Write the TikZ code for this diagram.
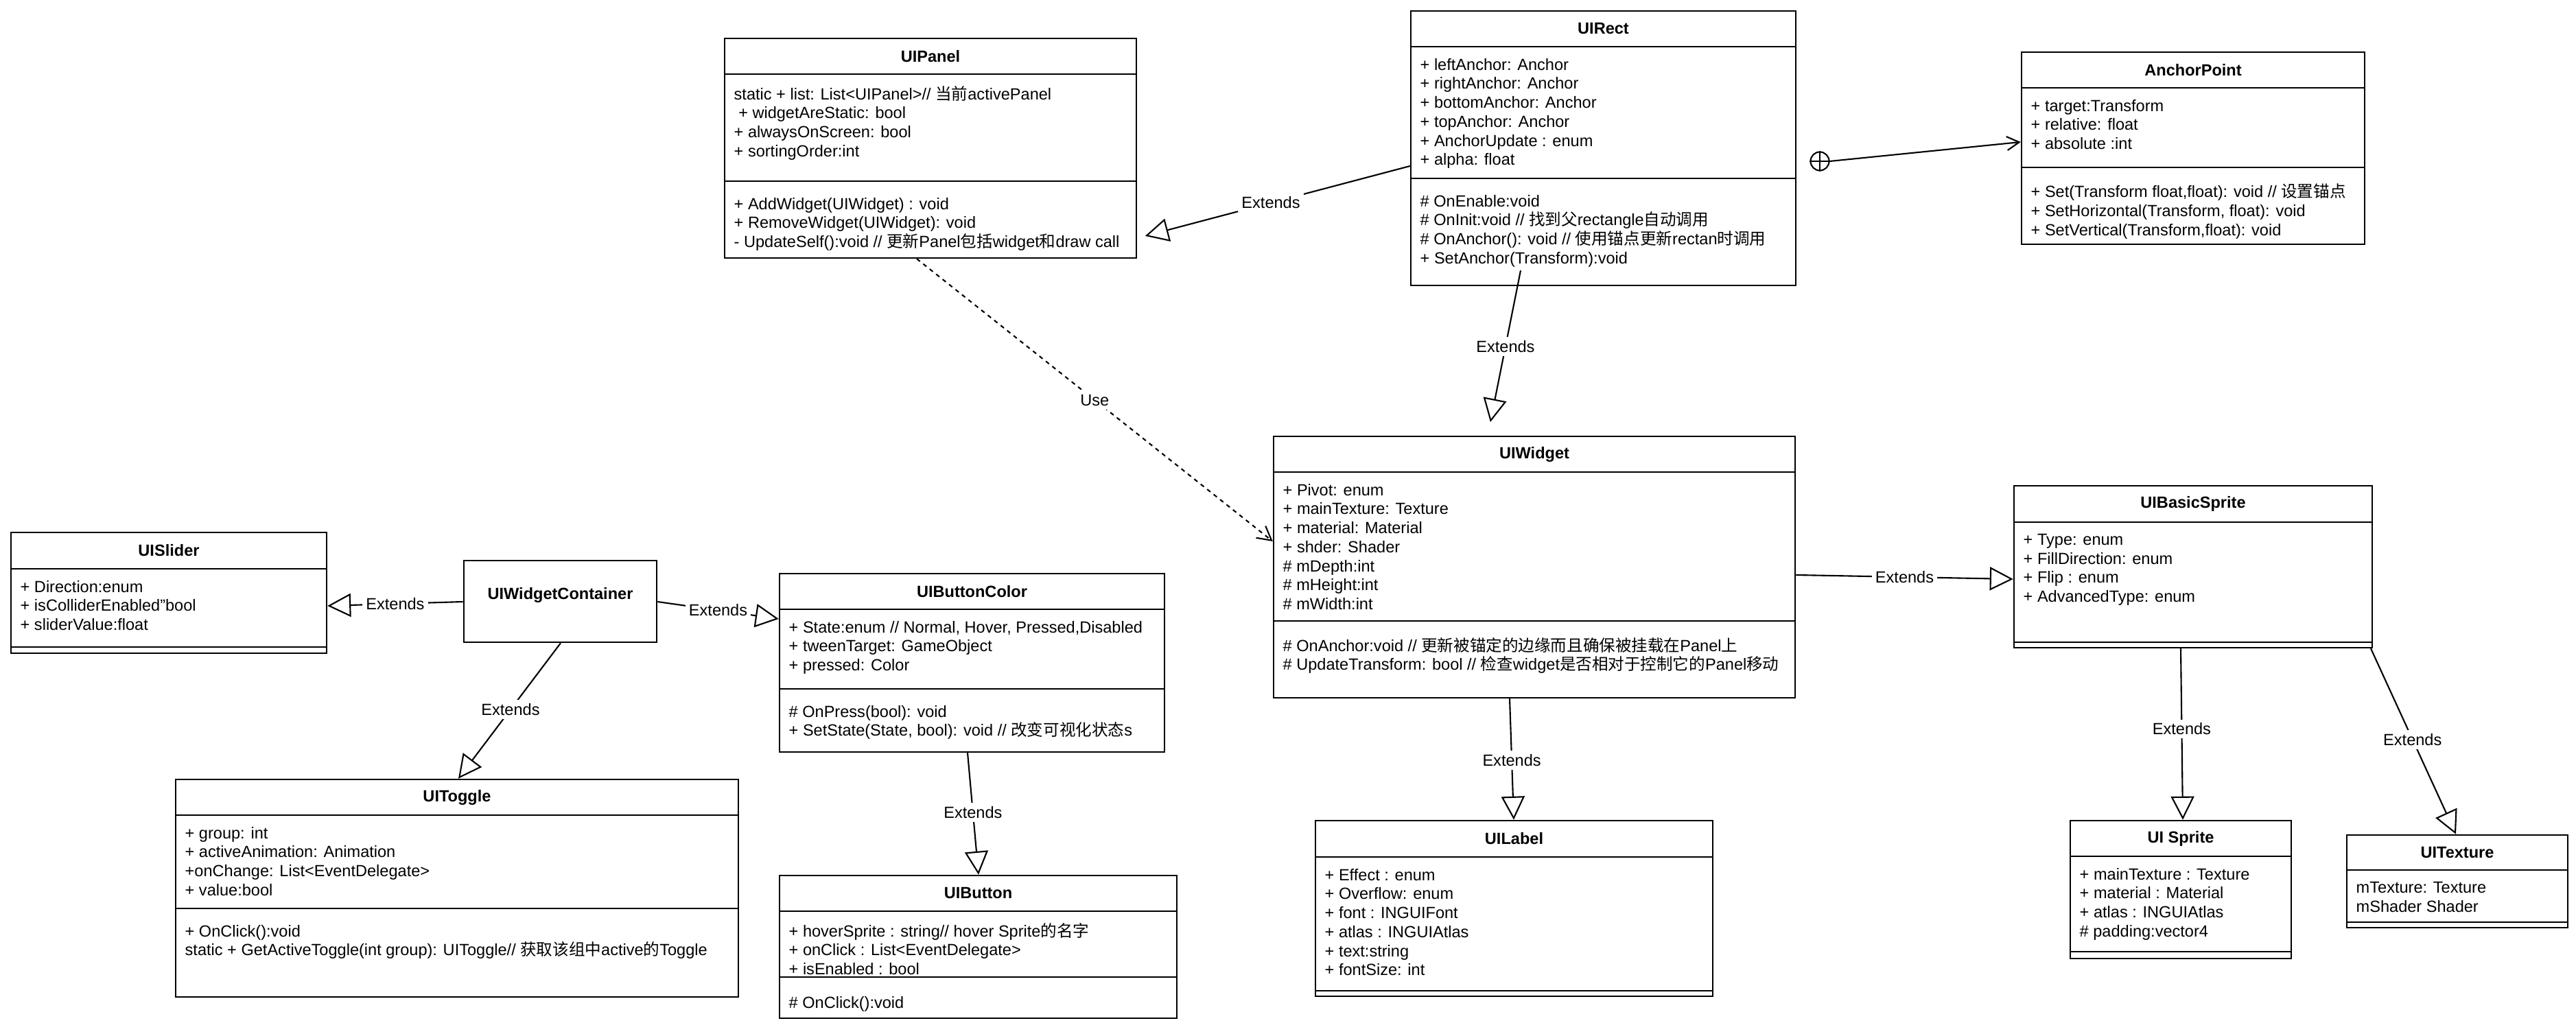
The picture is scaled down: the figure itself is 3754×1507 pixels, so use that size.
\documentclass[tikz,border=0pt]{standalone}
\usepackage{fontspec}
\setmainfont{Liberation Sans}
\newfontfamily\zhfont{Noto Sans CJK SC}
\usepackage{tikz}
\usetikzlibrary{arrows.meta,positioning,fit}

\newcommand{\zh}[1]{{\zhfont #1}}
\newcommand{\memberfont}{\fontsize{6.7}{7.88}\selectfont}
% class box: name, left, top, right, bottom, header line, divider line, title
\newcommand{\umlclass}[8]{%
  \node[classbox, fit={(#2,#3) (#4,#5)}] (#1) {};
  \draw[classline] (#2,#6) -- (#4,#6) (#2,#7) -- (#4,#7);
  \node[classtitle] at ({(#2+#4)/2},{(#3+#6)/2}) {#8};
  \coordinate (#1-attr) at ({#2+13},{#6+16.4});
  \coordinate (#1-meth) at ({#2+13},{#7+23.4});
}

\begin{document}
\begin{tikzpicture}[x=0.01cm,y=-0.01cm,
    classbox/.style={draw,line width=0.7pt,inner sep=0pt},
    classline/.style={line width=0.7pt},
    classtitle/.style={font=\memberfont\bfseries,inner sep=0pt},
    members/.style={anchor=north west,align=left,inner sep=0pt,font=\memberfont,
      execute at begin node={\rule{0pt}{6pt}}},
    extends/.style={-{Triangle[open,length=0.34cm,width=0.34cm]},line width=0.6pt},
    use/.style={-{Straight Barb[length=0.2cm,width=0.22cm]},line width=0.6pt,
      dash pattern=on 0.06cm off 0.06cm},
    assoc/.style={-{Straight Barb[length=0.18cm,width=0.2cm]},line width=0.6pt},
    lbl/.style={fill=white,inner sep=1.5pt,font=\memberfont}]
    \useasboundingbox (0,0) rectangle (3754,1507);
    \fill[white] (0,0) rectangle (3754,1507);

    % Classes
    \umlclass{panel}{1056}{56}{1656}{376}{108}{264}{UIPanel}
    \node[members] at (panel-attr) {static + list: List<UIPanel>// \zh{当前}activePanel\\
      \ + widgetAreStatic: bool\\ + alwaysOnScreen: bool\\ + sortingOrder:int};
    \node[members] at (panel-meth) {+ AddWidget(UIWidget) : void\\ + RemoveWidget(UIWidget): void\\
      - UpdateSelf():void // \zh{更新}Panel\zh{包括}widget\zh{和}draw call};

    \umlclass{rect}{2056}{16}{2617}{416}{68}{260}{UIRect}
    \node[members] at (rect-attr) {+ leftAnchor: Anchor\\ + rightAnchor: Anchor\\ + bottomAnchor: Anchor\\
      + topAnchor: Anchor\\ + AnchorUpdate : enum\\ + alpha: float};
    \node[members] at (rect-meth) {\# OnEnable:void\\ \# OnInit:void // \zh{找到父}rectangle\zh{自动调用}\\
      \# OnAnchor(): void // \zh{使用锚点更新}rectan\zh{时调用}\\ + SetAnchor(Transform):void};

    \umlclass{anchorpt}{2946}{76}{3446}{356}{128}{244}{AnchorPoint}
    \node[members] at (anchorpt-attr) {+ target:Transform\\ + relative: float\\ + absolute :int};
    \node[members] at (anchorpt-meth) {+ Set(Transform float,float): void // \zh{设置锚点}\\
      + SetHorizontal(Transform, float): void\\ + SetVertical(Transform,float): void};

    \umlclass{widget}{1856}{636}{2616}{1017}{688}{905}{UIWidget}
    \node[members] at (widget-attr) {+ Pivot: enum\\ + mainTexture: Texture\\ + material: Material\\
      + shder: Shader\\ \# mDepth:int\\ \# mHeight:int\\ \# mWidth:int};
    \node[members] at (widget-meth) {\# OnAnchor:void // \zh{更新被锚定的边缘而且确保被挂载在}Panel\zh{上}\\
      \# UpdateTransform: bool // \zh{检查}widget\zh{是否相对于控制它的}Panel\zh{移动}};

    \umlclass{slider}{16}{776}{476}{952}{829}{943}{UISlider}
    \node[members] at (slider-attr) {+ Direction:enum\\ + isColliderEnabled"bool\\ + sliderValue:float};

    \node[classbox,minimum width=2.81cm,minimum height=1.19cm] (container) at (816.5,876.5) {};
    \node[classtitle] at (816.5,867) {UIWidgetContainer};

    \umlclass{bcolor}{1136}{836}{1697}{1096}{888}{1004}{UIButtonColor}
    \node[members] at (bcolor-attr) {+ State:enum // Normal, Hover, Pressed,Disabled\\
      + tweenTarget: GameObject\\ + pressed: Color};
    \node[members] at (bcolor-meth) {\# OnPress(bool): void\\
      + SetState(State, bool): void // \zh{改变可视化状态}s};

    \umlclass{toggle}{256}{1136}{1076}{1453}{1188}{1324}{UIToggle}
    \node[members] at (toggle-attr) {+ group: int\\ + activeAnimation: Animation\\
      +onChange: List<EventDelegate>\\ + value:bool};
    \node[members] at (toggle-meth) {+ OnClick():void\\
      static + GetActiveToggle(int group): UIToggle// \zh{获取该组中}active\zh{的}Toggle};

    \umlclass{button}{1136}{1276}{1715}{1484}{1328}{1424}{UIButton}
    \node[members] at (button-attr) {+ hoverSprite : string// hover Sprite\zh{的名字}\\
      + onClick : List<EventDelegate>\\ + isEnabled : bool};
    \node[members] at (button-meth) {\# OnClick():void};

    \umlclass{uilabel}{1917}{1196}{2496}{1452}{1249}{1444}{UILabel}
    \node[members] at (uilabel-attr) {+ Effect : enum\\ + Overflow: enum\\ + font : INGUIFont\\
      + atlas : INGUIAtlas\\ + text:string\\ + fontSize: int};

    \umlclass{bsprite}{2935}{708}{3457}{944}{761}{936}{UIBasicSprite}
    \node[members] at (bsprite-attr) {+ Type: enum\\ + FillDirection: enum\\
      + Flip : enum\\ + AdvancedType: enum};

    \umlclass{sprite}{3017}{1196}{3339}{1397}{1248}{1387}{UI Sprite}
    \node[members] at (sprite-attr) {+ mainTexture : Texture\\ + material : Material\\
      + atlas : INGUIAtlas\\ \# padding:vector4};

    \umlclass{texture}{3420}{1217}{3742}{1352}{1268}{1344}{UITexture}
    \node[members] at (texture-attr) {mTexture: Texture\\ mShader Shader};

    % Arrows
    \draw[extends,shorten >=0.12cm] (rect.west |- 0,242) -- node[lbl,pos=0.51] {Extends} (panel.east |- 0,347);
    \draw[use] (1336,0 |- panel.south) -- node[lbl,pos=0.5] {Use} (widget.west |- 0,789);
    \draw[extends,shorten >=0.2cm] ([yshift=0.23cm]rect.south -| 2216,0) -- node[lbl,pos=0.46] {Extends} (widget.north -| 2168,0);
    \draw[extends] (container.west |- 0,877) -- node[lbl,pos=0.5] {Extends} (slider.east |- 0,883);
    \draw[extends] (container.east |- 0,877) -- node[lbl,pos=0.5] {Extends} (bcolor.west |- 0,902);
    \draw[extends] (817,0 |- container.south) -- node[lbl,pos=0.49] {Extends} (668,0 |- toggle.north);
    \draw[extends] (1410,0 |- bcolor.south) -- node[lbl,pos=0.49] {Extends} (1426,0 |- button.north);
    \draw[extends] (2200,0 |- widget.south) -- node[lbl,pos=0.51] {Extends} (2206,0 |- uilabel.north);
    \draw[extends] (widget.east |- 0,838) -- node[lbl,pos=0.5] {Extends} (bsprite.west |- 0,844);
    \draw[extends] (3178,0 |- bsprite.south) -- node[lbl,pos=0.47] {Extends} (3181,0 |- sprite.north);
    \draw[extends] (3455,0 |- bsprite.south) -- node[lbl,pos=0.49] {Extends} (3579,0 |- texture.north);

    % Composition to AnchorPoint
    \node[draw,circle,line width=0.6pt,minimum size=0.27cm,inner sep=0pt] (own) at (2652,235) {};
    \draw[line width=0.6pt] (own.north) -- (own.south) (own.west) -- (own.east);
    \draw[assoc] (own.east) -- (anchorpt.west |- 0,207);
\end{tikzpicture}
\end{document}
